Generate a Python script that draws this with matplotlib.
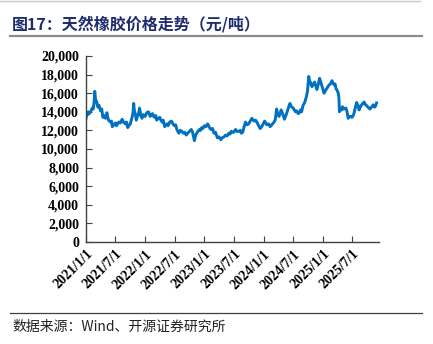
import matplotlib
matplotlib.use("Agg")
import matplotlib.pyplot as plt
import pandas as pd
from matplotlib.lines import Line2D

plt.rcParams['font.family'] = ['Noto Sans CJK SC', 'DejaVu Sans']

# Natural rubber price (yuan / tonne)
dates = [
    "2021-01-01", "2021-01-05", "2021-01-08", "2021-01-15", "2021-01-22", "2021-02-01",
    "2021-02-08", "2021-02-15", "2021-02-20", "2021-02-24", "2021-03-01", "2021-03-08",
    "2021-03-15", "2021-03-22", "2021-04-01", "2021-04-08", "2021-04-15", "2021-04-22",
    "2021-05-01", "2021-05-10", "2021-05-15", "2021-05-20", "2021-06-01", "2021-06-07",
    "2021-06-12", "2021-06-20", "2021-07-01", "2021-07-08", "2021-07-15", "2021-07-22",
    "2021-08-01", "2021-08-12", "2021-08-20", "2021-09-01", "2021-09-08", "2021-09-15",
    "2021-09-22", "2021-10-01", "2021-10-12", "2021-10-18", "2021-10-22", "2021-10-26",
    "2021-11-01", "2021-11-07", "2021-11-14", "2021-11-20", "2021-11-27", "2021-12-05",
    "2021-12-12", "2021-12-20",
    "2022-01-01", "2022-01-10", "2022-01-21", "2022-02-01", "2022-02-08", "2022-02-15",
    "2022-02-22", "2022-03-01", "2022-03-07", "2022-03-13", "2022-03-22", "2022-04-01",
    "2022-04-08", "2022-04-15", "2022-04-22", "2022-05-01", "2022-05-08", "2022-05-15",
    "2022-05-22", "2022-06-01", "2022-06-12", "2022-06-20", "2022-07-01", "2022-07-08",
    "2022-07-15", "2022-07-27", "2022-08-05", "2022-08-15", "2022-08-24", "2022-09-01",
    "2022-09-11", "2022-09-20", "2022-10-01", "2022-10-12", "2022-10-20", "2022-10-31",
    "2022-11-08", "2022-11-15", "2022-11-22", "2022-12-01", "2022-12-08", "2022-12-15",
    "2022-12-22",
    "2023-01-01", "2023-01-10", "2023-01-21", "2023-02-01", "2023-02-10", "2023-02-20",
    "2023-03-01", "2023-03-10", "2023-03-22", "2023-04-01", "2023-04-12", "2023-04-20",
    "2023-05-01", "2023-05-12", "2023-05-20", "2023-06-01", "2023-06-08", "2023-06-15",
    "2023-06-22", "2023-07-01", "2023-07-12", "2023-07-20", "2023-08-01", "2023-08-10",
    "2023-08-17", "2023-08-25", "2023-09-01", "2023-09-11", "2023-09-20", "2023-10-01",
    "2023-10-10", "2023-10-21", "2023-10-28", "2023-11-05", "2023-11-12", "2023-11-20",
    "2023-12-01", "2023-12-11", "2023-12-20",
    "2024-01-07", "2024-01-14", "2024-01-20", "2024-02-01", "2024-02-10", "2024-02-20",
    "2024-03-01", "2024-03-12", "2024-03-21", "2024-03-28", "2024-04-05", "2024-04-18",
    "2024-04-25", "2024-05-08", "2024-05-15", "2024-05-25", "2024-06-03", "2024-06-11",
    "2024-06-18", "2024-07-01", "2024-07-08", "2024-07-15", "2024-07-22", "2024-08-01",
    "2024-08-08", "2024-08-15", "2024-08-22", "2024-08-31", "2024-09-10", "2024-09-20",
    "2024-09-27", "2024-10-05", "2024-10-10", "2024-10-15", "2024-10-20", "2024-10-25",
    "2024-11-02", "2024-11-10", "2024-11-17", "2024-11-24", "2024-12-02", "2024-12-11",
    "2024-12-18", "2024-12-25",
    "2025-01-07", "2025-01-14", "2025-01-20", "2025-01-31", "2025-02-08", "2025-02-16",
    "2025-02-25", "2025-03-03", "2025-03-10", "2025-03-16", "2025-03-22", "2025-03-29",
    "2025-04-05", "2025-04-09", "2025-04-12", "2025-04-20", "2025-04-26", "2025-05-01",
    "2025-05-10", "2025-05-22", "2025-05-29", "2025-06-05", "2025-06-12", "2025-06-20",
    "2025-06-28", "2025-07-08", "2025-07-16", "2025-07-22", "2025-07-27", "2025-08-04",
    "2025-08-11", "2025-08-18", "2025-08-25", "2025-09-02", "2025-09-11", "2025-09-18",
    "2025-09-25", "2025-10-05", "2025-10-18", "2025-10-26", "2025-11-07", "2025-11-14",
    "2025-11-20", "2025-11-27",
]
prices = [
    13300, 13900, 13600, 14000, 13800, 14100,
    14400, 14300, 15000, 16200, 15300, 15100,
    14500, 14700, 14100, 14300, 13400, 13600,
    13300, 13900, 13400, 13100, 12900, 13000,
    12400, 12600, 12800, 12500, 12700, 12900,
    12800, 13200, 12900, 12700, 12900, 12300,
    12500, 12700, 13400, 13900, 14900, 14100,
    13800, 13100, 13500, 13700, 14400, 13600,
    13300, 13700,
    13500, 13900, 14000, 13500, 13700, 13800,
    13500, 13400, 13600, 13100, 13300, 13400,
    13100, 12900, 13100, 12400, 12600, 12700,
    12500, 12900, 13000, 12700, 12500, 12600,
    12100, 11700, 12000, 11900, 11700, 11800,
    11500, 11700, 11900, 12100, 11800, 10900,
    11500, 11700, 11900, 12100, 12000, 12300,
    12200,
    12500, 12400, 12700, 12300, 12100, 12200,
    11700, 11800, 11200, 11300, 11000, 11200,
    11300, 11500, 11400, 11700, 11600, 11900,
    11800, 11800, 12100, 11900, 11900, 12000,
    11700, 11800, 12300, 12900, 12600, 12700,
    13000, 13300, 13100, 13000, 13100, 12900,
    12500, 12200, 12400,
    13000, 12800, 12600, 12700, 12400, 12600,
    12800, 13100, 14300, 13700, 13500, 14200,
    13900, 13200, 13500, 14000, 14500, 14900,
    14600, 14400, 14200, 14000, 14100, 13800,
    13900, 14200, 14000, 14700, 15000, 15600,
    16200, 17800, 17300, 17200, 16900, 16700,
    17000, 17200, 16800, 16400, 16900, 17600,
    17200, 16800,
    16000, 16200, 16400, 16700, 16900, 17000,
    17350, 17100, 16900, 17000, 16500, 16300,
    16000, 15500, 14000, 14300, 14200, 14550,
    14300, 14400, 14000, 13300, 13500, 13500,
    13400, 13650, 14200, 14600, 15000, 14700,
    14200, 14500, 14700, 14900, 15050, 14800,
    14700, 14500, 14300, 14500, 14750, 14500,
    14600, 14950,
]
tick_dates = ["2021-01-01", "2021-07-01", "2022-01-01", "2022-07-01", "2023-01-01",
              "2023-07-01", "2024-01-01", "2024-07-01", "2025-01-01", "2025-07-01"]
tick_labels = ["2021/1/1", "2021/7/1", "2022/1/1", "2022/7/1", "2023/1/1",
               "2023/7/1", "2024/1/1", "2024/7/1", "2025/1/1", "2025/7/1"]
y_ticks = list(range(0, 20001, 2000))

title = "图17：天然橡胶价格走势（元/吨）"
source = "数据来源：Wind、开源证券研究所"

fig = plt.figure(figsize=(4.33, 3.44), dpi=100)
ax = fig.add_axes([86 / 433, 1 - 242 / 344, (379 - 86) / 433, (242 - 56) / 344])

x = pd.to_datetime(dates)
ax.plot(x, prices, color="#0070C0", lw=2.1, solid_joinstyle="round")

ax.set_xlim(pd.Timestamp("2021-01-01"), pd.Timestamp("2025-12-12"))
ax.set_ylim(0, 20000)
ax.set_yticks(y_ticks)
ax.set_yticklabels([f"{v:,}" for v in y_ticks], fontfamily="Liberation Serif",
                   fontweight="bold", fontsize=10)
ax.set_xticks(pd.to_datetime(tick_dates))
ax.set_xticklabels(tick_labels, rotation=45, ha="right", rotation_mode="anchor",
                   fontfamily="Liberation Serif", fontweight="bold", fontsize=10)

for s in ("top", "right"):
    ax.spines[s].set_visible(False)
for s in ("left", "bottom"):
    ax.spines[s].set_color("#404040")
    ax.spines[s].set_linewidth(1.0)
ax.tick_params(axis="both", direction="in", length=4, width=0.8, color="#404040", pad=4)
ax.tick_params(axis="y", pad=5)

# header and footer
fig.add_artist(Line2D([0, 420 / 433], [1 - 1 / 344] * 2, color="#c8c8c8", lw=1.0))
fig.text(12 / 433, 1 - 24 / 344, title, color="#1F2B6E", fontsize=11.5,
         fontweight="bold", va="center", ha="left")
fig.add_artist(Line2D([10 / 433, 422 / 433], [1 - 36 / 344] * 2, color="#8c8c8c", lw=1.6))
fig.add_artist(Line2D([10 / 433, 422 / 433], [1 - 313 / 344] * 2, color="#404040", lw=0.9))
fig.text(12 / 433, 1 - 327 / 344, source, color="#222222", fontsize=10,
         va="center", ha="left",
         family=["Noto Sans CJK SC", "DejaVu Sans"])

fig.savefig("out.png", dpi=100)
